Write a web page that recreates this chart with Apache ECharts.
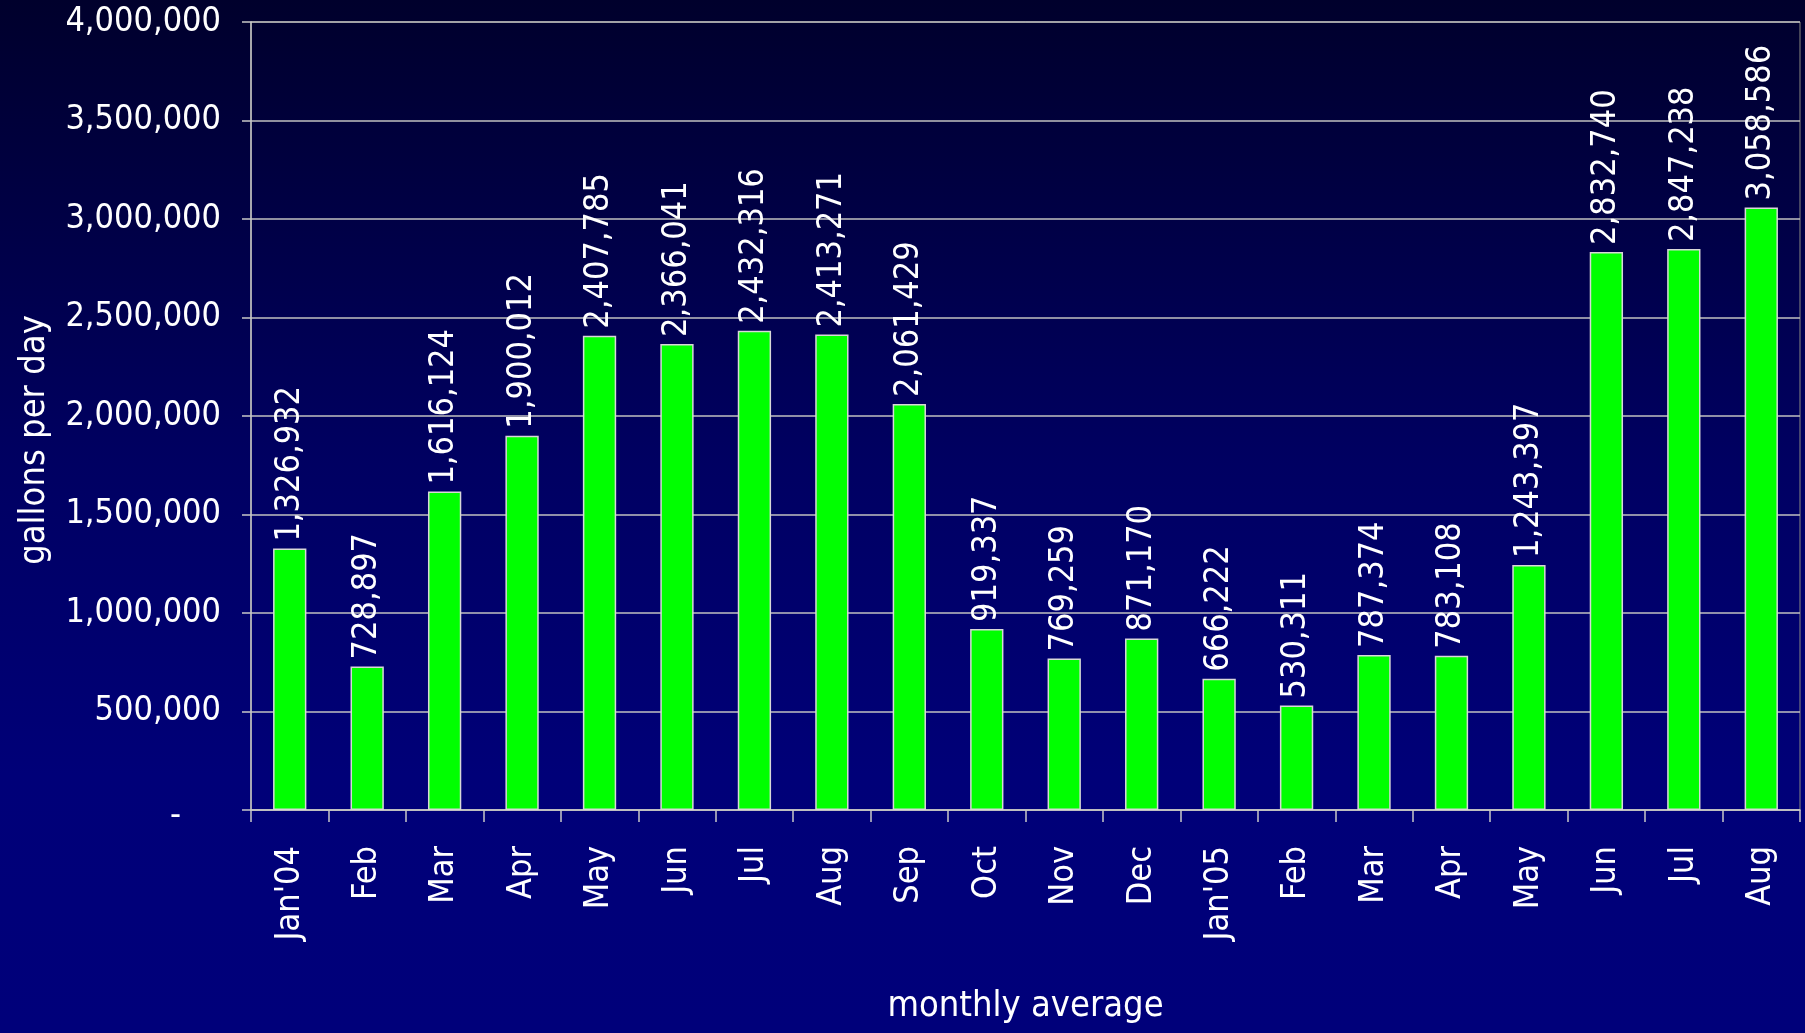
<!DOCTYPE html>
<html>
<head>
<meta charset="utf-8">
<title>gallons per day</title>
<script src="https://cdn.jsdelivr.net/npm/echarts@6/dist/echarts.min.js"></script>
<style>
  html, body { margin: 0; padding: 0; }
  #main { width: 1805px; height: 1033px; }
</style>
</head>
<body>
<div id="main"></div>
<script>
// monthly average, gallons per day
var months = ["Jan'04", 'Feb', 'Mar', 'Apr', 'May', 'Jun', 'Jul', 'Aug', 'Sep', 'Oct', 'Nov', 'Dec',
  "Jan'05", 'Feb', 'Mar', 'Apr', 'May', 'Jun', 'Jul', 'Aug'];
var gallons = [1326932, 728897, 1616124, 1900012, 2407785, 2366041, 2432316, 2413271, 2061429, 919337,
  769259, 871170, 666222, 530311, 787374, 783108, 1243397, 2832740, 2847238, 3058586];
var yTicks = [0, 500000, 1000000, 1500000, 2000000, 2500000, 3000000, 3500000, 4000000];

var font = '"DejaVu Sans Condensed", "Liberation Sans Narrow", sans-serif';

function fmt(v) {
  return String(v).replace(/\B(?=(\d{3})+(?!\d))/g, ',');
}

var chart = echarts.init(document.getElementById('main'));
chart.setOption({
  backgroundColor: {
    type: 'linear', x: 0, y: 0, x2: 0, y2: 1,
    colorStops: [
      {offset: 0, color: '#00002c'},
      {offset: 0.45, color: '#000062'},
      {offset: 0.75, color: '#000078'},
      {offset: 1, color: '#00007a'}
    ]
  },
  textStyle: {fontFamily: font},
  grid: {
    left: 251, right: 5, top: 22, bottom: 223,
    outerBoundsMode: 'none',
    containLabel: false,
    show: true, borderColor: '#8a8a80', borderWidth: 1, backgroundColor: 'transparent'
  },
  xAxis: {
    type: 'category',
    data: months,
    name: 'monthly average',
    nameLocation: 'middle',
    nameGap: 179,
    nameTextStyle: {color: '#fff', fontSize: 36, fontFamily: font},
    axisLine: {lineStyle: {color: '#c8c8c8', width: 1.5}},
    axisTick: {show: true, length: 12, lineStyle: {color: '#c8c8c8', width: 1.5}},
    axisLabel: {color: '#fff', fontSize: 34, rotate: 90, margin: 36, fontFamily: font}
  },
  yAxis: {
    type: 'value',
    min: yTicks[0],
    max: yTicks[yTicks.length - 1],
    interval: yTicks[1] - yTicks[0],
    name: 'gallons per day',
    nameLocation: 'middle',
    nameGap: 198,
    nameTextStyle: {color: '#fff', fontSize: 36, fontFamily: font, padding: [0, 48, 0, 0]},
    axisLine: {show: true, lineStyle: {color: '#c8c8c8', width: 1.5}},
    axisTick: {show: true, length: 9, lineStyle: {color: '#c8c8c8', width: 1.5}},
    splitLine: {lineStyle: {color: '#c0c0c0', width: 1.5}},
    axisLabel: {
      color: '#fff', fontSize: 34, margin: 30, fontFamily: font,
      formatter: function (v) { return v === 0 ? '{z|-}' : fmt(v); },
      rich: {z: {color: '#fff', fontSize: 34, fontFamily: font, padding: [12, 40, 0, 0]}}
    }
  },
  series: [{
    type: 'bar',
    data: gallons,
    barWidth: '43%',
    itemStyle: {color: '#00ff00', borderColor: '#d8d8d8', borderWidth: 1.5},
    label: {
      show: true,
      position: 'top',
      rotate: 90,
      align: 'left',
      verticalAlign: 'middle',
      distance: 7,
      color: '#fff',
      fontSize: 34,
      fontFamily: font,
      formatter: function (p) { return fmt(p.value); }
    }
  }]
});
</script>
</body>
</html>
